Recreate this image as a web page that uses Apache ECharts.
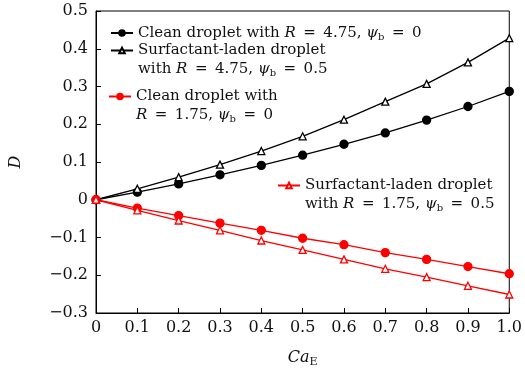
<!DOCTYPE html>
<html>
<head>
<meta charset="utf-8">
<script src="https://cdn.jsdelivr.net/npm/echarts@6/dist/echarts.min.js"></script>
<style>html,body{margin:0;padding:0;background:#fff;}#c{width:525px;height:374px;}</style>
</head>
<body>
<div id="c"></div>
<script>
const caE = [0, 0.1, 0.2, 0.3, 0.4, 0.5, 0.6, 0.7, 0.8, 0.9, 1.0];
const cleanR475 = [0, 0.020, 0.042, 0.066, 0.091, 0.118, 0.147, 0.177, 0.211, 0.247, 0.287];
const surfR475 = [0, 0.029, 0.060, 0.093, 0.129, 0.168, 0.212, 0.260, 0.307, 0.364, 0.428];
const cleanR175 = [0, -0.022, -0.042, -0.062, -0.081, -0.102, -0.119, -0.140, -0.158, -0.177, -0.196];
const surfR175 = [0, -0.028, -0.055, -0.081, -0.108, -0.133, -0.158, -0.183, -0.205, -0.228, -0.251];
const xTicks = [0, 0.1, 0.2, 0.3, 0.4, 0.5, 0.6, 0.7, 0.8, 0.9, 1.0];
const yTicks = [-0.3, -0.2, -0.1, 0, 0.1, 0.2, 0.3, 0.4, 0.5];

const FONT = 'DejaVu Serif';
const TXT = '#111';
const FS = 15;
const EQ = '\u2002=\u2002';

const rich = {
  t: {fontFamily: FONT, fontSize: FS, color: TXT, lineHeight: 19},
  i: {fontFamily: FONT, fontSize: FS, fontStyle: 'italic', color: TXT, lineHeight: 19},
  s: {fontFamily: FONT, fontSize: 10, color: TXT, padding: [8, 0, 0, 0], lineHeight: 19}
};

const names = ['c475', 's475', 'c175', 's175'];
const legendText = {
  c475: '{t|Clean droplet with }{i|R}{t|' + EQ + '4.75, }{i|ψ}{s|b}{t|' + EQ + '0}',
  s475: '{t|}\n{t|Surfactant-laden droplet}\n{t|with }{i|R}{t|' + EQ + '4.75, }{i|ψ}{s|b}{t|' + EQ + '0.5}',
  c175: '{t|}\n{t|Clean droplet with}\n{i|R}{t|' + EQ + '1.75, }{i|ψ}{s|b}{t|' + EQ + '0}',
  s175: '{t|}\n{t|Surfactant-laden droplet}\n{t|with }{i|R}{t|' + EQ + '1.75, }{i|ψ}{s|b}{t|' + EQ + '0.5}'
};

function pairs(ys) { return caE.map((x, k) => [x, ys[k]]); }

function mkSeries(name, ys, color, filled) {
  return {
    name: name, type: 'line', data: pairs(ys),
    symbol: filled ? 'circle' : 'triangle',
    symbolSize: filled ? 8 : 7,
    lineStyle: {color: color, width: 1.3},
    itemStyle: {color: filled ? color : '#fff', borderColor: color, borderWidth: 1.3},
    emphasis: {disabled: true},
    animation: false
  };
}

function mkLegend(name, left, top) {
  return {
    data: [name], left: left, top: top, orient: 'vertical',
    itemWidth: 22, itemHeight: 7, itemGap: 0, padding: 0,
    selectedMode: false,
    formatter: n => legendText[n],
    textStyle: {rich: rich}
  };
}

const chart = echarts.init(document.getElementById('c'));
chart.setOption({
  backgroundColor: '#fff',
  animation: false,
  grid: {left: 95, right: 15, top: 11, bottom: 61, show: true, borderColor: '#000', borderWidth: 1},
  legend: [
    mkLegend('c475', 110, 24),
    mkLegend('s475', 110, 24),
    mkLegend('c175', 108, 70),
    mkLegend('s175', 277, 159)
  ],
  xAxis: {
    type: 'value', min: 0, max: 1, interval: 0.1,
    axisLine: {onZero: false, lineStyle: {color: '#000', width: 1}},
    axisTick: {inside: true, length: 5, lineStyle: {color: '#000'}},
    splitLine: {show: false},
    axisLabel: {fontFamily: FONT, fontSize: 16, color: TXT, margin: 7,
      formatter: v => (Math.abs(v) < 1e-9 ? '0' : v.toFixed(1))},
    name: '{i|Ca}{s|E}', nameLocation: 'middle', nameGap: 35,
    nameTextStyle: {rich: {
      i: {fontFamily: FONT, fontSize: 16, fontStyle: 'italic', color: TXT},
      s: {fontFamily: FONT, fontSize: 11, color: TXT, padding: [9, 0, 0, 0]}
    }}
  },
  yAxis: {
    type: 'value', min: -0.3, max: 0.5, interval: 0.1,
    axisLine: {onZero: false, lineStyle: {color: '#000', width: 1}},
    axisTick: {inside: true, length: 5, lineStyle: {color: '#000'}},
    splitLine: {show: false},
    axisLabel: {fontFamily: FONT, fontSize: 16, color: TXT, margin: 8,
      formatter: v => {
        if (Math.abs(v) < 1e-9) return '0';
        return v < 0 ? '\u2212' + Math.abs(v).toFixed(1) : v.toFixed(1);
      }},
    name: 'D', nameLocation: 'middle', nameGap: 72, nameRotate: 90,
    nameTextStyle: {fontFamily: FONT, fontSize: 16, fontStyle: 'italic', color: TXT}
  },
  series: [
    mkSeries('c475', cleanR475, '#000', true),
    mkSeries('s475', surfR475, '#000', false),
    mkSeries('c175', cleanR175, '#ff0000', true),
    mkSeries('s175', surfR175, '#ff0000', false)
  ]
});
</script>
</body>
</html>
